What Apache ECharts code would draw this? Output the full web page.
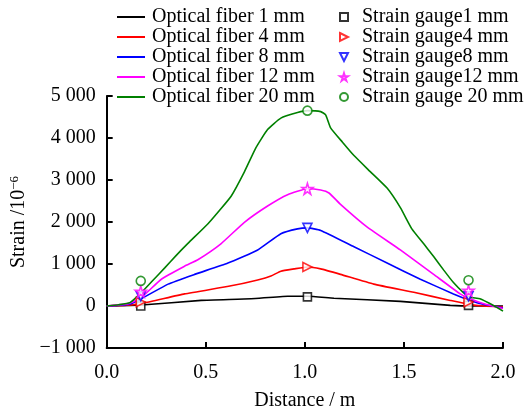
<!DOCTYPE html>
<html><head><meta charset="utf-8">
<script src="https://cdn.jsdelivr.net/npm/echarts@6/dist/echarts.min.js"></script>
<style>html,body{margin:0;padding:0;background:#fff}#c{width:525px;height:416px}</style>
</head><body><div id="c"></div>
<script>
const fiberNames = ['Optical fiber 1 mm','Optical fiber 4 mm','Optical fiber 8 mm','Optical fiber 12 mm','Optical fiber 20 mm'];
const gaugeNames = ['Strain gauge1 mm','Strain gauge4 mm','Strain gauge8 mm','Strain gauge12 mm','Strain gauge 20 mm'];
const colors = ['#000000','#ff0000','#0000ff','#ff00ff','#008000'];

const fiber1 = [[0,0],[0.176,23],[0.477,133],[0.729,172],[0.913,233],[1.013,233],[1.147,186],[1.482,109],[1.734,16],[1.85,0],[2.0,0]];
const fiber4 = [[0,0],[0.1,20],[0.176,56],[0.393,288],[0.628,481],[0.762,621],[0.829,714],[0.879,830],[0.946,884],[1.013,930],[1.08,884],[1.18,753],[1.348,521],[1.55,326],[1.734,133],[1.834,33],[1.9,0],[2.0,-20]];
const fiber8 = [[0,0],[0.1,30],[0.159,133],[0.31,521],[0.444,753],[0.612,1023],[0.762,1335],[0.879,1721],[0.963,1837],[1.013,1860],[1.08,1800],[1.248,1411],[1.415,1023],[1.583,637],[1.75,288],[1.834,133],[1.9,40],[2.0,-40]];
const fiber12 = [[0,0],[0.109,56],[0.176,209],[0.276,637],[0.393,947],[0.46,1102],[0.578,1488],[0.695,1993],[0.812,2381],[0.913,2651],[1.013,2791],[1.08,2760],[1.122,2691],[1.18,2419],[1.315,1877],[1.482,1335],[1.65,753],[1.784,288],[1.834,172],[1.9,60],[2.0,-60]];
const fiber20 = [[0,0],[0.06,30],[0.117,80],[0.176,325],[0.235,620],[0.293,907],[0.35,1200],[0.41,1490],[0.51,1953],[0.57,2280],[0.628,2614],[0.695,3195],[0.754,3776],[0.812,4202],[0.879,4474],[0.963,4605],[1.013,4651],[1.08,4628],[1.105,4551],[1.13,4242],[1.19,3900],[1.248,3582],[1.33,3200],[1.415,2807],[1.482,2342],[1.54,1837],[1.6,1480],[1.65,1179],[1.7,860],[1.75,558],[1.8,320],[1.834,209],[1.884,172],[1.95,16],[2.0,-123]];

const gaugeX = [0.172, 1.013, 1.826];
const gauge1 = [0, 218, 16];
const gauge4 = [93, 930, 93];
const gauge8 = [233, 1860, 233];
const gauge12 = [342, 2791, 365];
const gauge20 = [598, 4651, 614];

const xTicks = [0, 0.5, 1.0, 1.5, 2.0];
const yTicks = [-1000, 0, 1000, 2000, 3000, 4000, 5000];

const FONT = 'Liberation Serif';
const FS = 20;
const fibers = [fiber1, fiber4, fiber8, fiber12, fiber20];
const gauges = [gauge1, gauge4, gauge8, gauge12, gauge20];
const starPath = 'path://M50,0 L61,35 L98,35 L68,57 L79,91 L50,70 L21,91 L32,57 L2,35 L39,35 Z';
const triRight = 'path://M0,0 L10,5 L0,10 Z';
const triDown = 'path://M0,0 L10,0 L5,10 Z';
const gSymbols = ['rect',triRight,triDown,starPath,'circle'];
const gSize = [8,9,9,11,9];

const series = [];
fibers.forEach((d,i)=>{
  series.push({name: fiberNames[i], type:'line', data:d, symbol:'none', smooth:0.15,
    lineStyle:{color:colors[i], width:1.6}, itemStyle:{color:colors[i]}, z:2});
});
gauges.forEach((g,i)=>{
  series.push({name: gaugeNames[i], type:'scatter', data:g.map((v,k)=>[gaugeX[k],v]),
    symbol:gSymbols[i], symbolSize:gSize[i],
    itemStyle:{color:'#ffffff', borderColor:colors[i], borderWidth:1.6}, z:5});
});

function fmtNum(v){
  const neg = v<0; let s = String(Math.abs(v));
  s = s.replace(/\B(?=(\d{3})+(?!\d))/g,' ');
  return (neg?'\u2212':'')+s;
}

const chart = echarts.init(document.getElementById('c'), null, {renderer:'canvas'});
chart.setOption({
  animation:false,
  backgroundColor:'#fff',
  textStyle:{fontFamily:FONT},
  grid:{left:105, right:22, top:96, bottom:62, containLabel:false},
  legend:[{
    data:fiberNames.map(n=>({name:n, icon:'rect'})), orient:'vertical', left:117, top:7, padding:0, itemWidth:28, itemHeight:2, itemGap:0,
    textStyle:{fontFamily:FONT, fontSize:FS, lineHeight:18.5, color:'#000', padding:[0,0,0,2]}
  },{
    data:gaugeNames.map((n,i)=>({name:n, icon:gSymbols[i]})), orient:'vertical', left:339, top:7, padding:0, itemWidth:8, itemHeight:8, itemGap:0,
    textStyle:{fontFamily:FONT, fontSize:FS, lineHeight:18.5, color:'#000', padding:[0,0,0,9]}
  }],
  xAxis:{type:'value', min:0, max:2, interval:0.5,
    name:'Distance / m', nameLocation:'middle', nameGap:43,
    nameTextStyle:{fontFamily:FONT, fontSize:FS, color:'#000'},
    axisLine:{onZero:false, lineStyle:{color:'#000', width:2}},
    axisTick:{inside:true, length:6, lineStyle:{color:'#000', width:2}},
    axisLabel:{fontFamily:FONT, fontSize:FS, color:'#000', margin:15, formatter:v=>v.toFixed(1)},
    splitLine:{show:false}},
  yAxis:{type:'value', min:-1000, max:5000, interval:1000,
    name:'Strain /10{sup|\u22126}', nameLocation:'middle', nameGap:66, nameRotate:90,
    nameTextStyle:{fontFamily:FONT, fontSize:FS, color:'#000', rich:{sup:{fontFamily:FONT, fontSize:13, verticalAlign:'top', color:'#000', padding:[0,0,8,0]}}},
    axisLine:{show:true, onZero:false, lineStyle:{color:'#000', width:2}},
    axisTick:{inside:true, length:6, lineStyle:{color:'#000', width:2}},
    axisLabel:{fontFamily:FONT, fontSize:FS, color:'#000', margin:11, formatter:v=>fmtNum(v)},
    splitLine:{show:false}},
  series: series
});
</script></body></html>
